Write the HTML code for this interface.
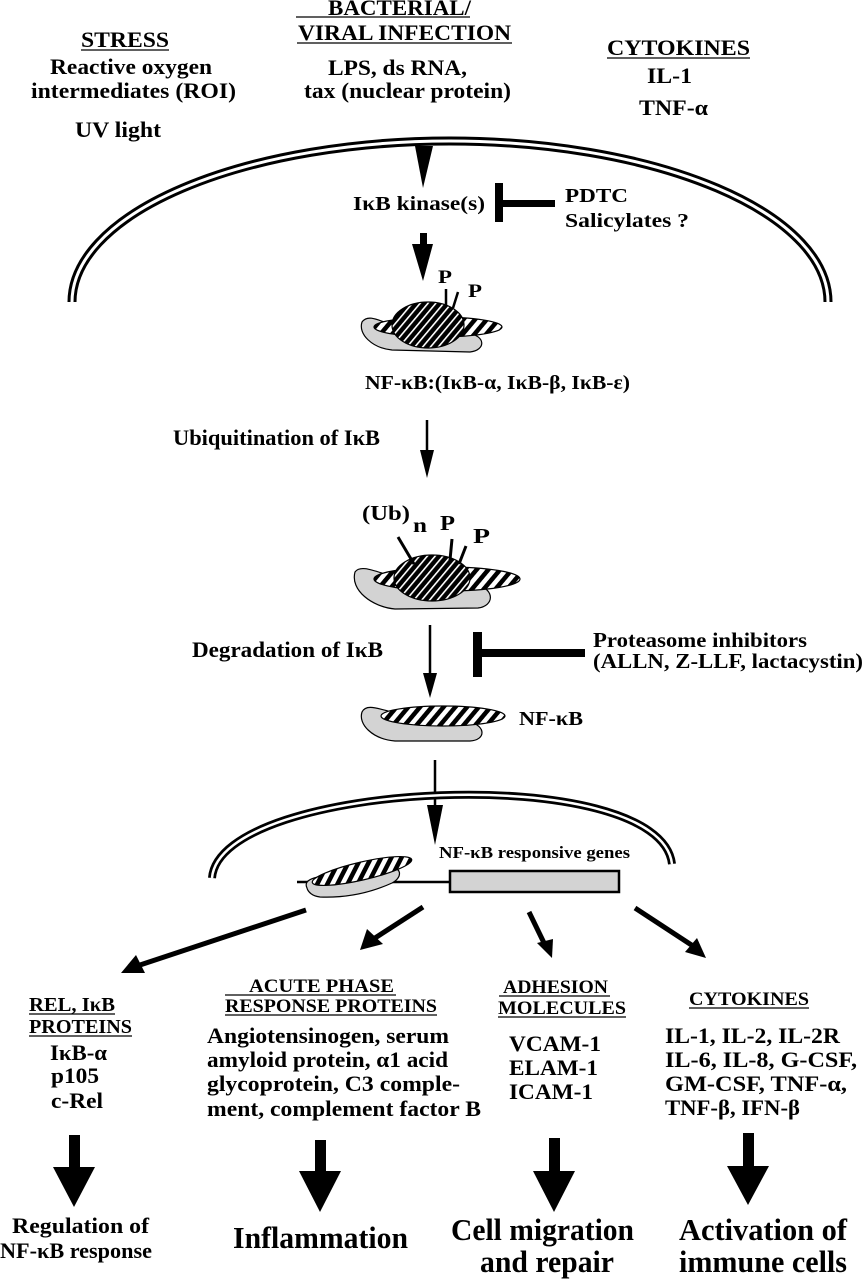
<!DOCTYPE html>
<html><head><meta charset="utf-8"><style>
html,body{margin:0;padding:0;background:#fff;}
svg{display:block;}
text{font-family:"Liberation Serif",serif;font-weight:bold;fill:#000;}
</style></head><body>
<svg width="864" height="1280" viewBox="0 0 864 1280" xmlns="http://www.w3.org/2000/svg">
<defs>
<pattern id="hatch" width="9" height="9" patternUnits="userSpaceOnUse" patternTransform="rotate(40)">
<rect width="9" height="9" fill="#fff"/><rect width="4.5" height="9" fill="#000"/></pattern>
<pattern id="dark" width="6" height="6" patternUnits="userSpaceOnUse" patternTransform="rotate(40)">
<rect width="6" height="6" fill="#000"/><rect width="1.6" height="6" fill="#fff"/></pattern>
</defs>

<text x="81" y="47" font-size="22" textLength="88" lengthAdjust="spacingAndGlyphs">STRESS</text>
<line x1="81" y1="50" x2="169" y2="50" stroke="#000" stroke-width="1.3"/>
<text x="50" y="74" font-size="22" textLength="162" lengthAdjust="spacingAndGlyphs">Reactive oxygen</text>
<text x="31" y="98" font-size="22" textLength="205" lengthAdjust="spacingAndGlyphs">intermediates (ROI)</text>
<text x="75" y="137" font-size="22" textLength="86" lengthAdjust="spacingAndGlyphs">UV light</text>

<text x="328" y="15" font-size="22" textLength="143" lengthAdjust="spacingAndGlyphs">BACTERIAL/</text>
<line x1="296" y1="17" x2="470" y2="17" stroke="#000" stroke-width="1.3"/>
<text x="298" y="40" font-size="22" textLength="213" lengthAdjust="spacingAndGlyphs">VIRAL INFECTION</text>
<line x1="297" y1="43" x2="512" y2="43" stroke="#000" stroke-width="1.3"/>
<text x="328" y="75" font-size="22" textLength="139" lengthAdjust="spacingAndGlyphs">LPS, ds RNA,</text>
<text x="304" y="98" font-size="22" textLength="207" lengthAdjust="spacingAndGlyphs">tax (nuclear protein)</text>

<text x="607" y="55" font-size="22" textLength="143" lengthAdjust="spacingAndGlyphs">CYTOKINES</text>
<line x1="607" y1="58" x2="750" y2="58" stroke="#000" stroke-width="1.3"/>
<text x="647" y="83" font-size="22" textLength="45" lengthAdjust="spacingAndGlyphs">IL-1</text>
<text x="639" y="115" font-size="22" textLength="69" lengthAdjust="spacingAndGlyphs">TNF-α</text>

<path d="M72,302 A378,161 0 0 1 828,302" fill="none" stroke="#000" stroke-width="9"/>
<path d="M72,302 A378,161 0 0 1 828,302" fill="none" stroke="#fff" stroke-width="3"/>

<polygon points="415,146 433,146 423,188" fill="#000"/>
<text x="353" y="210" font-size="20" textLength="132" lengthAdjust="spacingAndGlyphs">IκB kinase(s)</text>
<rect x="495" y="183" width="8" height="39" fill="#000"/>
<rect x="495" y="200" width="60" height="7" fill="#000"/>
<text x="565" y="202" font-size="20" textLength="63" lengthAdjust="spacingAndGlyphs">PDTC</text>
<text x="565" y="227" font-size="20" textLength="124" lengthAdjust="spacingAndGlyphs">Salicylates ?</text>

<rect x="420" y="233" width="7" height="12" fill="#000"/>
<polygon points="412,244 433,244 423,281" fill="#000"/>

<path d="M362,322 C368,314 378,320 392,325 L468,333 C486,336 486,350 470,352 L392,350 C372,348 358,334 362,322 Z" fill="#d3d3d3" stroke="#000" stroke-width="1.2"/>
<ellipse cx="438" cy="327" rx="64" ry="10" fill="url(#hatch)" stroke="#000" stroke-width="1.2"/>
<ellipse cx="428" cy="325" rx="36" ry="23" fill="url(#dark)" stroke="#000" stroke-width="1.2"/>
<text x="438" y="283" font-size="19" textLength="14" lengthAdjust="spacingAndGlyphs">P</text>
<text x="468" y="297" font-size="19" textLength="14" lengthAdjust="spacingAndGlyphs">P</text>
<line x1="446" y1="289" x2="446" y2="306" stroke="#000" stroke-width="2.5"/>
<line x1="458" y1="292" x2="453" y2="308" stroke="#000" stroke-width="2.5"/>

<text x="365" y="389" font-size="20" textLength="265" lengthAdjust="spacingAndGlyphs">NF-κB:(IκB-α, IκB-β, IκB-ε)</text>

<text x="173" y="445" font-size="22" textLength="207" lengthAdjust="spacingAndGlyphs">Ubiquitination of IκB</text>
<line x1="427" y1="420" x2="427" y2="452" stroke="#000" stroke-width="2.5"/>
<polygon points="420,450 434,450 427,478" fill="#000"/>

<path d="M355,572 C360,565 372,570 388,575 L478,585 C495,590 494,606 478,608 L395,609 C372,607 350,590 355,572 Z" fill="#d3d3d3" stroke="#000" stroke-width="1.2"/>
<ellipse cx="447" cy="579" rx="73" ry="12" fill="url(#hatch)" stroke="#000" stroke-width="1.2"/>
<ellipse cx="432" cy="578" rx="38" ry="23" fill="url(#dark)" stroke="#000" stroke-width="1.2"/>
<text x="362" y="520" font-size="21" textLength="48" lengthAdjust="spacingAndGlyphs">(Ub)</text>
<text x="413" y="532" font-size="21" textLength="14" lengthAdjust="spacingAndGlyphs">n</text>
<text x="440" y="530" font-size="21" textLength="15" lengthAdjust="spacingAndGlyphs">P</text>
<text x="473" y="543" font-size="21" textLength="17" lengthAdjust="spacingAndGlyphs">P</text>
<line x1="398" y1="537" x2="414" y2="564" stroke="#000" stroke-width="3"/>
<line x1="452" y1="539" x2="450" y2="560" stroke="#000" stroke-width="3"/>
<line x1="466" y1="546" x2="459" y2="564" stroke="#000" stroke-width="3"/>

<text x="192" y="657" font-size="22" textLength="191" lengthAdjust="spacingAndGlyphs">Degradation of IκB</text>
<line x1="430" y1="625" x2="430" y2="675" stroke="#000" stroke-width="2.5"/>
<polygon points="423,673 437,673 430,698" fill="#000"/>
<rect x="473" y="632" width="9" height="45" fill="#000"/>
<rect x="473" y="649" width="112" height="8" fill="#000"/>
<text x="593" y="647" font-size="21" textLength="214" lengthAdjust="spacingAndGlyphs">Proteasome inhibitors</text>
<text x="593" y="668" font-size="21" textLength="270" lengthAdjust="spacingAndGlyphs">(ALLN, Z-LLF, lactacystin)</text>

<path d="M362,712 C366,704 376,708 392,712 L470,722 C486,726 486,740 470,741 L395,741 C372,739 358,724 362,712 Z" fill="#d3d3d3" stroke="#000" stroke-width="1.2"/>
<ellipse cx="443" cy="716" rx="62" ry="10" fill="url(#hatch)" stroke="#000" stroke-width="1.2"/>
<text x="519" y="725" font-size="20" textLength="64" lengthAdjust="spacingAndGlyphs">NF-κB</text>

<line x1="435" y1="760" x2="435" y2="808" stroke="#000" stroke-width="2.5"/>
<polygon points="427,805 443,805 435,845" fill="#000"/>

<path d="M212,878 C220,780 660,760 672,864" fill="none" stroke="#000" stroke-width="8"/>
<path d="M212,878 C220,780 660,760 672,864" fill="none" stroke="#fff" stroke-width="2.5"/>

<text x="439" y="858" font-size="17" textLength="191" lengthAdjust="spacingAndGlyphs">NF-κB responsive genes</text>
<line x1="297" y1="882" x2="449" y2="882" stroke="#000" stroke-width="2.5"/>
<rect x="450" y="871" width="169" height="21" fill="#d3d3d3" stroke="#000" stroke-width="2.5"/>
<path d="M307,888 C302,878 320,876 340,874 L392,868 C402,868 402,878 392,883 C370,893 345,898 320,897 C312,896 308,892 307,888 Z" fill="#d3d3d3" stroke="#000" stroke-width="1.2"/>
<ellipse cx="362" cy="871" rx="51" ry="9" transform="rotate(-13 362 871)" fill="url(#hatch)" stroke="#000" stroke-width="1.2"/>

<g stroke="#000" stroke-width="5">
<line x1="306" y1="910" x2="140" y2="965"/>
<line x1="423" y1="907" x2="375" y2="938"/>
<line x1="529" y1="912" x2="545" y2="945"/>
<line x1="635" y1="908" x2="693" y2="946"/>
</g>
<polygon points="121,973 136,955 145,973" fill="#000"/>
<polygon points="360,950 367,929 383,944" fill="#000"/>
<polygon points="552,958 537,943 553,939" fill="#000"/>
<polygon points="706,958 685,952 697,938" fill="#000"/>

<text x="29" y="1011" font-size="20" textLength="86" lengthAdjust="spacingAndGlyphs">REL, IκB</text>
<line x1="29" y1="1014" x2="115" y2="1014" stroke="#000" stroke-width="1.3"/>
<text x="29" y="1033" font-size="20" textLength="103" lengthAdjust="spacingAndGlyphs">PROTEINS</text>
<line x1="29" y1="1036" x2="132" y2="1036" stroke="#000" stroke-width="1.3"/>
<text x="50" y="1060" font-size="22" textLength="57" lengthAdjust="spacingAndGlyphs">IκB-α</text>
<text x="51" y="1083" font-size="22" textLength="48" lengthAdjust="spacingAndGlyphs">p105</text>
<text x="51" y="1108" font-size="22" textLength="52" lengthAdjust="spacingAndGlyphs">c-Rel</text>

<text x="249" y="992" font-size="19" textLength="145" lengthAdjust="spacingAndGlyphs">ACUTE PHASE</text>
<line x1="225" y1="995" x2="396" y2="995" stroke="#000" stroke-width="1.3"/>
<text x="225" y="1012" font-size="19" textLength="212" lengthAdjust="spacingAndGlyphs">RESPONSE PROTEINS</text>
<line x1="225" y1="1015" x2="437" y2="1015" stroke="#000" stroke-width="1.3"/>
<text x="207" y="1043" font-size="22" textLength="242" lengthAdjust="spacingAndGlyphs">Angiotensinogen, serum</text>
<text x="207" y="1067" font-size="22" textLength="241" lengthAdjust="spacingAndGlyphs">amyloid protein, α1 acid</text>
<text x="207" y="1091" font-size="22" textLength="253" lengthAdjust="spacingAndGlyphs">glycoprotein, C3 comple-</text>
<text x="207" y="1116" font-size="22" textLength="274" lengthAdjust="spacingAndGlyphs">ment, complement factor B</text>

<text x="503" y="993" font-size="19" textLength="105" lengthAdjust="spacingAndGlyphs">ADHESION</text>
<line x1="499" y1="996" x2="610" y2="996" stroke="#000" stroke-width="1.3"/>
<text x="498" y="1014" font-size="19" textLength="128" lengthAdjust="spacingAndGlyphs">MOLECULES</text>
<line x1="498" y1="1017" x2="626" y2="1017" stroke="#000" stroke-width="1.3"/>
<text x="509" y="1051" font-size="22" textLength="92" lengthAdjust="spacingAndGlyphs">VCAM-1</text>
<text x="509" y="1075" font-size="22" textLength="89" lengthAdjust="spacingAndGlyphs">ELAM-1</text>
<text x="509" y="1099" font-size="22" textLength="84" lengthAdjust="spacingAndGlyphs">ICAM-1</text>

<text x="689" y="1005" font-size="19" textLength="120" lengthAdjust="spacingAndGlyphs">CYTOKINES</text>
<line x1="689" y1="1008" x2="809" y2="1008" stroke="#000" stroke-width="1.3"/>
<text x="665" y="1043" font-size="22" textLength="175" lengthAdjust="spacingAndGlyphs">IL-1, IL-2, IL-2R</text>
<text x="665" y="1067" font-size="22" textLength="192" lengthAdjust="spacingAndGlyphs">IL-6, IL-8, G-CSF,</text>
<text x="665" y="1091" font-size="22" textLength="182" lengthAdjust="spacingAndGlyphs">GM-CSF, TNF-α,</text>
<text x="665" y="1115" font-size="22" textLength="135" lengthAdjust="spacingAndGlyphs">TNF-β, IFN-β</text>

<g fill="#000">
<rect x="69" y="1135" width="11" height="33"/><polygon points="53,1167 95,1167 74,1207"/>
<rect x="315" y="1140" width="11" height="32"/><polygon points="299,1171 341,1171 320,1212"/>
<rect x="549" y="1138" width="11" height="34"/><polygon points="533,1171 575,1171 554,1212"/>
<rect x="743" y="1133" width="11" height="34"/><polygon points="727,1166 769,1166 748,1205"/>
</g>

<text x="12" y="1233" font-size="22" textLength="137" lengthAdjust="spacingAndGlyphs">Regulation of</text>
<text x="0" y="1258" font-size="22" textLength="152" lengthAdjust="spacingAndGlyphs">NF-κB response</text>
<text x="233" y="1248" font-size="31" textLength="175" lengthAdjust="spacingAndGlyphs">Inflammation</text>
<text x="451" y="1240" font-size="31" textLength="183" lengthAdjust="spacingAndGlyphs">Cell migration</text>
<text x="480" y="1272" font-size="31" textLength="134" lengthAdjust="spacingAndGlyphs">and repair</text>
<text x="679" y="1240" font-size="31" textLength="168" lengthAdjust="spacingAndGlyphs">Activation of</text>
<text x="679" y="1272" font-size="31" textLength="168" lengthAdjust="spacingAndGlyphs">immune cells</text>
</svg>
</body></html>
